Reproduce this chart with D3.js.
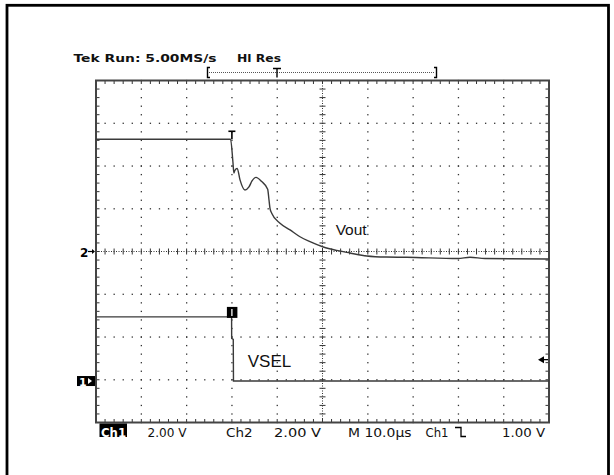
<!DOCTYPE html>
<html><head><meta charset="utf-8">
<script src="https://cdn.jsdelivr.net/npm/d3@7"></script>
<style>html,body{margin:0;padding:0;background:#fff;}svg{display:block;}</style>
</head><body>
<svg id="c" width="614" height="475"></svg>
<script>
// ---- data (time in µs, relative to trigger; volts) ----
const timeDomain = [-30, 70];           // 10 divisions, 10.0 µs/div
const divDomain = [-4, 4];              // 8 vertical divisions
const voltsPerDiv = 2.0;                // both channels 2.00 V/div
const ch2GroundDiv = 0;                 // "2→" marker
const ch1GroundDiv = -3.03;             // "1" marker
const trigLevelV = 1.0;                 // Ch1 trigger level

const voutT = [-30, -0.29, 0.22, 0.44, 0.66, 1.17, 1.79, 2.89, 3.77, 4.44, 5.32, 6.58, 7.90, 8.19, 8.41, 8.79, 10.62, 12.83, 15.03, 17.24, 20.18, 23.13, 26.07, 29.76, 34.02, 38.59, 49.91, 52.56, 55.87, 70];
const voutV = [5.25, 5.25, 4.20, 3.67, 3.80, 3.89, 3.35, 2.88, 3.02, 3.30, 3.47, 3.27, 2.91, 2.41, 2.02, 1.79, 1.32, 1.01, 0.69, 0.46, 0.21, 0.05, -0.07, -0.21, -0.26, -0.27, -0.33, -0.27, -0.33, -0.35];

const vselT = [-30, -0.07, -0.05, 0.30, 0.35, 70];
const vselV = [3.0, 3.0, 2.0, 1.95, 0.0, 0.0];

const headerText = ["Tek Run: 5.00MS/s", "Hl Res"];
const footerText = ["Ch1", "2.00 V", "Ch2", "2.00 V", "M 10.0\u00b5s", "Ch1", "1.00 V"];
const traceLabels = ["Vout", "VSEL"];

// ---- scales ----
const svg = d3.select("#c");
const x = d3.scaleLinear().domain(timeDomain).range([96, 549]);
const y = d3.scaleLinear().domain(divDomain).range([422.5, 80.5]);
const y2 = v => y(ch2GroundDiv + v / voltsPerDiv);
const y1 = v => y(ch1GroundDiv + v / voltsPerDiv);

// outer border
svg.append("rect").attr("x", 7).attr("y", 5.3).attr("width", 601.5).attr("height", 520)
  .attr("fill", "none").attr("stroke", "#000").attr("stroke-width", 2.8);

const g = svg.append("g");
const ink = "#333";

// minor positions (1/5 div)
const xMinor = d3.range(0, 51).map(i => timeDomain[0] + i * 2);
const yMinor = d3.range(0, 41).map(i => divDomain[0] + i * 0.2);

// grid dots on major lines
const xMajor = d3.range(1, 10).map(i => timeDomain[0] + i * 10).filter(t => t !== 20);
const yMajor = d3.range(1, 8).map(i => divDomain[0] + i).filter(d => d !== 0);
xMajor.forEach(t => {
  yMinor.forEach(d => g.append("rect").attr("x", x(t) - 0.6).attr("y", y(d) - 0.6).attr("width", 1.3).attr("height", 1.3).attr("fill", ink));
});
yMajor.forEach(d => {
  xMinor.forEach(t => g.append("rect").attr("x", x(t) - 0.6).attr("y", y(d) - 0.6).attr("width", 1.3).attr("height", 1.3).attr("fill", ink));
});

// center crosshair
const xc = x(20), yc = y(0);
g.append("line").attr("x1", xc).attr("x2", xc).attr("y1", y(4)).attr("y2", y(-4))
  .attr("stroke", ink).attr("stroke-width", 1).attr("stroke-dasharray", "1,1.5");
g.append("line").attr("x1", x(-30)).attr("x2", x(70)).attr("y1", yc).attr("y2", yc)
  .attr("stroke", ink).attr("stroke-width", 1).attr("stroke-dasharray", "1,1.5");
yMinor.forEach(d => g.append("line").attr("x1", xc - 3).attr("x2", xc + 3).attr("y1", y(d)).attr("y2", y(d)).attr("stroke", ink).attr("stroke-width", 1));
xMinor.forEach(t => g.append("line").attr("x1", x(t)).attr("x2", x(t)).attr("y1", yc - 3).attr("y2", yc + 3).attr("stroke", ink).attr("stroke-width", 1));

// frame ticks
xMinor.forEach(t => {
  g.append("line").attr("x1", x(t)).attr("x2", x(t)).attr("y1", y(4)).attr("y2", y(4) + 3.5).attr("stroke", ink);
  g.append("line").attr("x1", x(t)).attr("x2", x(t)).attr("y1", y(-4)).attr("y2", y(-4) - 3.5).attr("stroke", ink);
});
yMinor.forEach(d => {
  g.append("line").attr("x1", x(-30)).attr("x2", x(-30) + 3.5).attr("y1", y(d)).attr("y2", y(d)).attr("stroke", ink);
  g.append("line").attr("x1", x(70)).attr("x2", x(70) - 3.5).attr("y1", y(d)).attr("y2", y(d)).attr("stroke", ink);
});

// frame
g.append("rect").attr("x", x(-30)).attr("y", y(4)).attr("width", x(70) - x(-30)).attr("height", y(-4) - y(4))
  .attr("fill", "none").attr("stroke", "#444").attr("stroke-width", 2);

// traces
const vout = voutT.map((t, i) => [t, voutV[i]]);
const vsel = vselT.map((t, i) => [t, vselV[i]]);
g.append("path").datum(vout)
  .attr("d", d3.line().x(d => x(d[0])).y(d => y2(d[1])).curve(d3.curveMonotoneX))
  .attr("fill", "none").attr("stroke", "#3a3a3a").attr("stroke-width", 1.4);
g.append("path").datum(vsel)
  .attr("d", d3.line().x(d => x(d[0])).y(d => y1(d[1])))
  .attr("fill", "none").attr("stroke", "#3a3a3a").attr("stroke-width", 1.4);

// trigger "T" marker on Vout
const tx = x(0), ty = y2(voutV[0]);
g.append("line").attr("x1", tx - 3.5).attr("x2", tx + 3.5).attr("y1", ty - 8).attr("y2", ty - 8).attr("stroke", "#000").attr("stroke-width", 1.6);
g.append("line").attr("x1", tx).attr("x2", tx).attr("y1", ty - 8).attr("y2", ty).attr("stroke", "#000").attr("stroke-width", 1.6);

// ch1 trigger box on VSEL
const by = y1(vselV[0]);
g.append("rect").attr("x", tx - 5).attr("y", by - 10).attr("width", 10.5).attr("height", 11).attr("fill", "#000");
g.append("line").attr("x1", tx).attr("x2", tx).attr("y1", by - 8).attr("y2", by - 1).attr("stroke", "#fff").attr("stroke-width", 1.3);

// trace labels
const lab = (txt, xx, yy, fs) => g.append("text").attr("x", xx).attr("y", yy).text(txt)
  .attr("font-family", "Liberation Sans, Arial, sans-serif").attr("font-size", fs).attr("fill", "#111");
lab(traceLabels[0], x(22.9), y2(0.78), 15.5);
lab(traceLabels[1], x(3.5), y1(0.65), 17);

// ground markers
g.append("text").attr("x", 80).attr("y", y(ch2GroundDiv) + 5).text("2")
  .attr("font-family", "DejaVu Sans, sans-serif").attr("font-weight", "bold").attr("font-size", 12).attr("fill", "#000");
g.append("line").attr("x1", 88).attr("x2", 94).attr("y1", y(ch2GroundDiv)).attr("y2", y(ch2GroundDiv)).attr("stroke", "#000").attr("stroke-width", 1.2);
g.append("path").attr("d", `M95,${y(ch2GroundDiv)} l-3,-2.5 v5 z`).attr("fill", "#000");

const g1 = y(ch1GroundDiv);
g.append("rect").attr("x", 77).attr("y", g1 - 5).attr("width", 18).attr("height", 10).attr("fill", "#000");
g.append("text").attr("x", 79).attr("y", g1 + 4.5).text("1")
  .attr("font-family", "DejaVu Sans, sans-serif").attr("font-weight", "bold").attr("font-size", 11).attr("fill", "#fff");
g.append("path").attr("d", `M88,${g1 - 3} l4,3 l-4,3 z`).attr("fill", "#fff");

// trigger level arrow (right)
const tl = y1(trigLevelV);
g.append("path").attr("d", `M538,${tl} l6,-3.5 v7 z`).attr("fill", "#000");
g.append("line").attr("x1", 542).attr("x2", 548).attr("y1", tl).attr("y2", tl).attr("stroke", "#000").attr("stroke-width", 1.3);

// header
const hdr = (txt, xx, yy, len) => svg.append("text").attr("x", xx).attr("y", yy).text(txt)
  .attr("font-family", "DejaVu Sans, sans-serif").attr("font-weight", "bold").attr("font-size", 11)
  .attr("fill", "#111").attr("textLength", len).attr("lengthAdjust", "spacingAndGlyphs");
hdr(headerText[0], 73.5, 61.5, 143);
hdr(headerText[1], 237, 61.5, 44);

// record bracket
const bx0 = 207, bx1 = 437, btr = 277, byy = 72.5;
svg.append("line").attr("x1", bx0 + 2).attr("x2", bx1 - 2).attr("y1", byy).attr("y2", byy)
  .attr("stroke", "#555").attr("stroke-width", 1).attr("stroke-dasharray", "1,1");
svg.append("path").attr("d", `M${bx0 + 3},${byy - 5} h-2.5 v10 h2.5`).attr("fill", "none").attr("stroke", "#000").attr("stroke-width", 1.4);
svg.append("path").attr("d", `M${bx1 - 3},${byy - 5} h2.5 v10 h-2.5`).attr("fill", "none").attr("stroke", "#000").attr("stroke-width", 1.4);
svg.append("path").attr("d", `M${btr - 4},${byy - 4} h8 M${btr},${byy - 4} v9`).attr("fill", "none").attr("stroke", "#000").attr("stroke-width", 1.4);

// footer
const fy = 436.5;
svg.append("rect").attr("x", 99.5).attr("y", 423.5).attr("width", 27.5).attr("height", 13.5).attr("fill", "#000");
const ft = (txt, xx, len, col) => svg.append("text").attr("x", xx).attr("y", fy).text(txt)
  .attr("font-family", "DejaVu Sans, sans-serif").attr("font-size", 12).attr("fill", col || "#111")
  .attr("textLength", len).attr("lengthAdjust", "spacingAndGlyphs");
ft(footerText[0], 101, 25, "#fff").attr("font-weight", "bold");
ft(footerText[1], 147.5, 39);
ft(footerText[2], 226, 26.5);
ft(footerText[3], 274, 47);
ft(footerText[4], 348, 63.5);
ft(footerText[5], 425.5, 23);
ft(footerText[6], 502, 43);
// falling-edge trigger symbol
svg.append("path").attr("d", `M455,${fy - 9} h6 v9 h5`).attr("fill", "none").attr("stroke", "#000").attr("stroke-width", 1.3);
</script>
</body></html>
